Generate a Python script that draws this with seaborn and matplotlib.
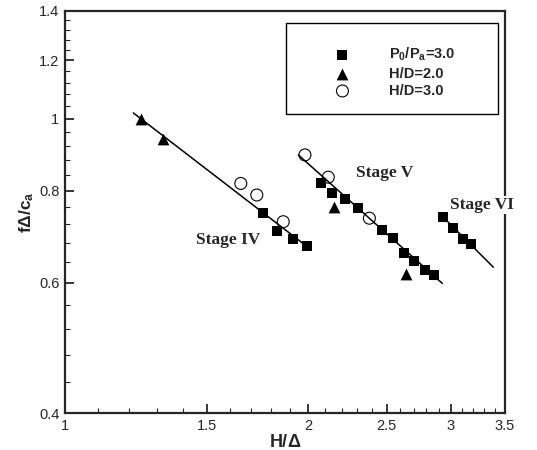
import numpy as np
import pandas as pd
import matplotlib
matplotlib.use("Agg")
import matplotlib.pyplot as plt
from matplotlib.ticker import FixedLocator, FixedFormatter, NullFormatter
from matplotlib.patches import Rectangle
import seaborn as sns

# ---------------- data ----------------
sq_x = [1.756, 1.828, 1.913, 1.994,
        2.072, 2.142, 2.220, 2.302, 2.465, 2.544, 2.627, 2.705, 2.789, 2.864,
        2.938, 3.023, 3.105, 3.180]
sq_y = [0.746, 0.705, 0.687, 0.674,
        0.818, 0.795, 0.779, 0.758, 0.707, 0.691, 0.659, 0.642, 0.624, 0.615,
        0.736, 0.711, 0.689, 0.677]

tri_x = [1.241, 1.321, 2.152, 2.642]
tri_y = [1.000, 0.938, 0.759, 0.617]

circ_x = [1.650, 1.727, 1.862, 1.981, 2.117, 2.380]
circ_y = [0.818, 0.789, 0.726, 0.894, 0.834, 0.734]

fit4_x = [1.215, 1.968]
fit4_y = [1.019, 0.679]
fit5_x = [1.944, 2.930]
fit5_y = [0.894, 0.599]
fit6_x = [2.938, 3.388]
fit6_y = [0.736, 0.630]

series_labels = [r"P$_0$/P$_a$=3.0", "H/D=2.0", "H/D=3.0"]
stage_labels = ["Stage IV", "Stage V", "Stage VI"]

x_ticks = [1, 1.5, 2, 2.5, 3, 3.5]
x_ticklabels = ["1", "1.5", "2", "2.5", "3", "3.5"]
y_ticks = [0.4, 0.6, 0.8, 1.0, 1.2, 1.4]
y_ticklabels = ["0.4", "0.6", "0.8", "1", "1.2", "1.4"]

# ---------------- style ----------------
sns.set_style("ticks")
plt.rcParams["font.family"] = ["Liberation Sans", "DejaVu Sans"]
plt.rcParams["mathtext.fontset"] = "custom"
plt.rcParams["mathtext.rm"] = "Liberation Sans:bold"
plt.rcParams["mathtext.default"] = "rm"

fig = plt.figure(figsize=(5.37, 4.5), dpi=100)
ax = fig.add_axes([0.121, 0.0822, 0.819, 0.8934])

for fx, fy in [(fit4_x, fit4_y), (fit5_x, fit5_y), (fit6_x, fit6_y)]:
    sns.lineplot(x=fx, y=fy, ax=ax, color="black", linewidth=1.1,
                 estimator=None, sort=False, zorder=2)

sns.scatterplot(x=sq_x, y=sq_y, ax=ax, marker="s", s=7.4**2, color="black",
                edgecolor="black", linewidth=0, label=series_labels[0], zorder=3)
sns.scatterplot(x=tri_x, y=tri_y, ax=ax, marker="^", s=8.5**2, color="black",
                edgecolor="black", linewidth=0, label=series_labels[1], zorder=3)
sns.scatterplot(x=circ_x, y=circ_y, ax=ax, marker="o", s=8.6**2, facecolor="none",
                edgecolor="black", linewidth=0.8, label=series_labels[2], zorder=3)

ax.set_xscale("log")
ax.set_yscale("log")
ax.set_xlim(1, 3.5)
ax.set_ylim(0.4, 1.4)

ax.xaxis.set_major_locator(FixedLocator(x_ticks))
ax.xaxis.set_major_formatter(FixedFormatter(x_ticklabels))
ax.xaxis.set_minor_locator(FixedLocator(np.arange(1.1, 3.45, 0.1)))
ax.xaxis.set_minor_formatter(NullFormatter())
ax.yaxis.set_major_locator(FixedLocator(y_ticks))
ax.yaxis.set_major_formatter(FixedFormatter(y_ticklabels))
ax.yaxis.set_minor_locator(FixedLocator(np.arange(0.44, 1.39, 0.04)))
ax.yaxis.set_minor_formatter(NullFormatter())

ax.tick_params(which="major", direction="in", length=6.5, width=1.3,
               labelsize=10.5, pad=4, top=False, right=False)
ax.tick_params(which="minor", direction="in", length=3.5, width=0.8,
               top=False, right=False)
for sp in ax.spines.values():
    sp.set_linewidth(1.6)
    sp.set_visible(True)

ax.set_xlabel(r"H/$\Delta$", fontsize=13, fontweight="bold", labelpad=1)
ax.set_ylabel(r"f$\Delta$/c$_a$", fontsize=12.5, fontweight="bold", labelpad=2)

serif = ["Liberation Serif", "DejaVu Serif"]
ax.text(1.591, 0.686, stage_labels[0], family=serif, fontweight="bold",
        fontsize=12.5, ha="center", va="center")
ax.text(2.489, 0.844, stage_labels[1], family=serif, fontweight="bold",
        fontsize=12.5, ha="center", va="center")
ax.text(3.281, 0.765, stage_labels[2], family=serif, fontweight="bold",
        fontsize=12.5, ha="center", va="center", clip_on=False,
        bbox=dict(facecolor="white", edgecolor="none", pad=0.5), zorder=5)

# legend
handles, labels = ax.get_legend_handles_labels()
leg = ax.legend(handles, labels, loc="upper left",
                bbox_to_anchor=((328 - 65) / 440, (413 - 46) / 402),
                frameon=False, borderpad=0, borderaxespad=0,
                handlelength=2.0, handletextpad=2.2, labelspacing=0.22,
                prop={"family": "Liberation Sans", "weight": "bold", "size": 10.5},
                scatterpoints=1)
ax.add_patch(Rectangle((0.502, 0.744), 0.482, 0.226, transform=ax.transAxes,
                       facecolor="none", edgecolor="black", linewidth=1.0,
                       zorder=4))

fig.savefig("out.png", dpi=100)
